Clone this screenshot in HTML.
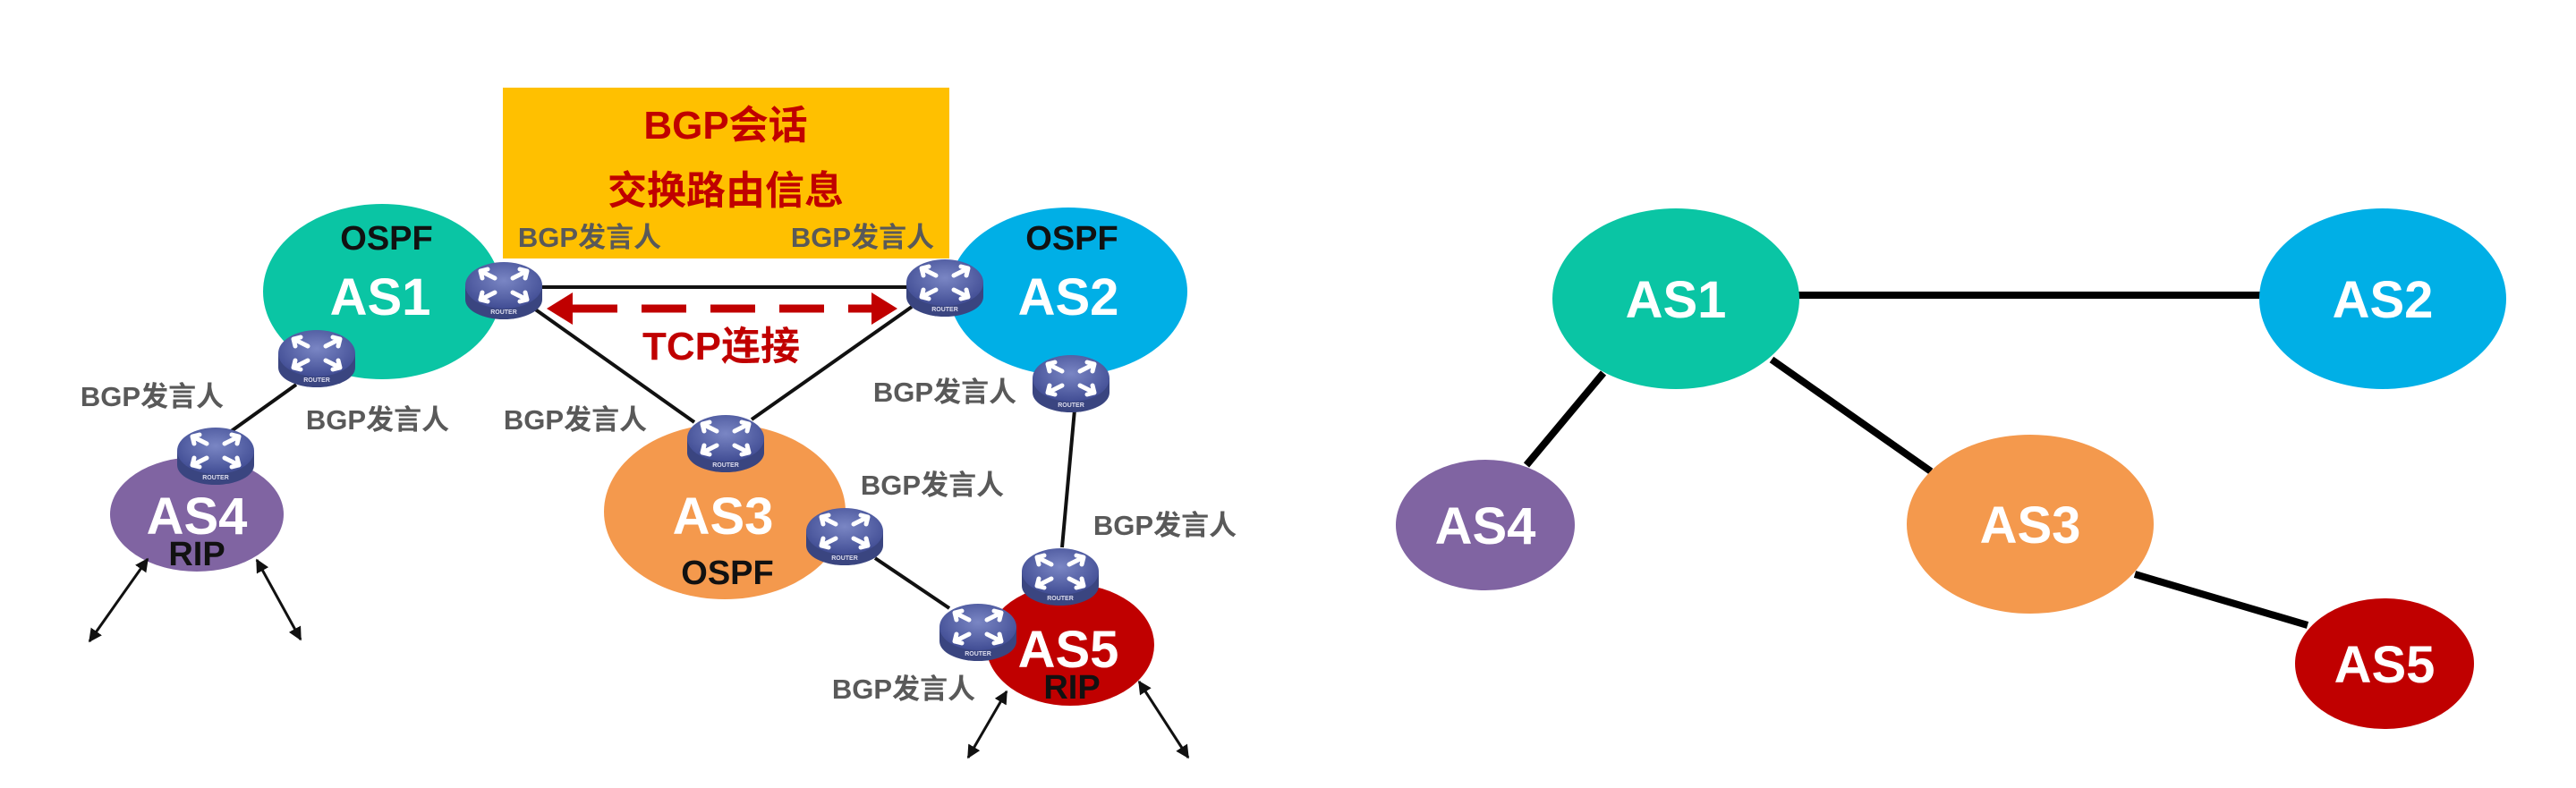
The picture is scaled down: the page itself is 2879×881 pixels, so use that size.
<!DOCTYPE html>
<html><head><meta charset="utf-8"><style>
html,body{margin:0;padding:0;background:#fff;}
svg{display:block;}
text{font-family:"Liberation Sans","Noto Sans CJK SC",sans-serif;font-weight:bold;}
.lbl{fill:#595959;font-size:31px;}
.as{fill:#fff;font-size:58px;text-anchor:middle;}
.sub{fill:#111;font-size:38px;text-anchor:middle;}
</style></head><body>
<svg width="2879" height="881" viewBox="0 0 2879 881" xmlns="http://www.w3.org/2000/svg">
<defs>
<radialGradient id="rg" cx="50%" cy="40%" r="60%"><stop offset="0" stop-color="#7a86c4"/><stop offset="1" stop-color="#414d94"/></radialGradient>
<g id="router">
  <path d="M-43,-6 L-43,10 A43,22 0 0 0 43,10 L43,-6 Z" fill="#3a4580"/>
  <ellipse cx="0" cy="-6" rx="43" ry="26" fill="url(#rg)"/>
  <g stroke="#fff" stroke-width="5" fill="none" stroke-linecap="round">
    <path d="M-26,-22 L-10,-14 M-26,-22 L-24,-14 M-26,-22 L-18,-24"/>
    <path d="M26,-22 L10,-14 M26,-22 L18,-24 M26,-22 L24,-14"/>
    <path d="M-26,10 L-10,2 M-26,10 L-18,12 M-26,10 L-24,2"/>
    <path d="M26,10 L10,2 M26,10 L24,2 M26,10 L18,12"/>
  </g>
  <text x="0" y="26" font-size="7" fill="#dde" text-anchor="middle">ROUTER</text>
</g>
<marker id="ah" viewBox="0 0 10 10" refX="9" refY="5" markerWidth="5" markerHeight="5" orient="auto-start-reverse"><path d="M0,0 L10,5 L0,10 Z" fill="#111"/></marker>
</defs>

<rect x="562" y="98" width="499" height="191" fill="#ffc000"/>
<text x="811" y="155" font-size="44" fill="#c00000" text-anchor="middle">BGP会话</text>
<text x="811" y="228" font-size="44" fill="#c00000" text-anchor="middle">交换路由信息</text>

<ellipse cx="427" cy="326" rx="133" ry="98" fill="#0ac5a4"/>
<ellipse cx="1194" cy="326" rx="133" ry="94" fill="#00afe6"/>
<ellipse cx="810" cy="572" rx="135" ry="98" fill="#f4994d"/>
<ellipse cx="220" cy="575" rx="97" ry="64" fill="#8064a2"/>
<ellipse cx="1196" cy="721" rx="94" ry="68" fill="#c00000"/>

<g stroke="#111" stroke-width="4">
<line x1="560" y1="321" x2="1056" y2="321"/>
<line x1="597" y1="345" x2="776" y2="472"/>
<line x1="1019" y1="343" x2="840" y2="469"/>
<line x1="331" y1="430" x2="257" y2="483"/>
<line x1="1201" y1="458" x2="1187" y2="612"/>
<line x1="978" y1="624" x2="1061" y2="680"/>
</g>
<g stroke="#111" stroke-width="3" marker-start="url(#ah)" marker-end="url(#ah)">
<line x1="165" y1="625" x2="100" y2="717"/>
<line x1="287" y1="626" x2="336" y2="715"/>
<line x1="1125" y1="773" x2="1082" y2="847"/>
<line x1="1273" y1="762" x2="1328" y2="847"/>
</g>

<line x1="640" y1="345" x2="975" y2="345" stroke="#c00000" stroke-width="9" stroke-dasharray="50,27"/>
<path d="M611,345 L640,327 L640,363 Z" fill="#c00000"/>
<path d="M1003,345 L974,327 L974,363 Z" fill="#c00000"/>
<text x="806" y="402" font-size="44" fill="#c00000" text-anchor="middle">TCP连接</text>

<text x="432" y="279" class="sub">OSPF</text>
<text x="425" y="352" class="as">AS1</text>
<text x="1198" y="279" class="sub">OSPF</text>
<text x="1194" y="352" class="as">AS2</text>
<text x="808" y="597" class="as">AS3</text>
<text x="813" y="653" class="sub">OSPF</text>
<text x="220" y="597" class="as" font-size="54">AS4</text>
<text x="220" y="632" class="sub" font-size="34">RIP</text>
<text x="1194" y="746" class="as" font-size="54">AS5</text>
<text x="1198" y="781" class="sub" font-size="34">RIP</text>

<use href="#router" x="563" y="325"/>
<use href="#router" x="1056" y="322"/>
<use href="#router" x="354" y="401"/>
<use href="#router" x="241" y="510"/>
<use href="#router" x="811" y="496"/>
<use href="#router" x="1197" y="429"/>
<use href="#router" x="944" y="600"/>
<use href="#router" x="1185" y="645"/>
<use href="#router" x="1093" y="707"/>

<g class="lbl" text-anchor="middle">
<text x="659" y="276" class="lbl">BGP发言人</text>
<text x="964" y="276" class="lbl">BGP发言人</text>
<text x="170" y="454" class="lbl">BGP发言人</text>
<text x="422" y="480" class="lbl">BGP发言人</text>
<text x="643" y="480" class="lbl">BGP发言人</text>
<text x="1056" y="449" class="lbl">BGP发言人</text>
<text x="1042" y="553" class="lbl">BGP发言人</text>
<text x="1302" y="598" class="lbl">BGP发言人</text>
<text x="1010" y="781" class="lbl">BGP发言人</text>
</g>

<g stroke="#000" stroke-width="8">
<line x1="1990" y1="330" x2="2545" y2="330"/>
<line x1="1792" y1="417" x2="1706" y2="520"/>
<line x1="1980" y1="402" x2="2158" y2="527"/>
<line x1="2386" y1="642" x2="2579" y2="699"/>
</g>
<ellipse cx="1873" cy="334" rx="138" ry="101" fill="#0ac5a4"/>
<ellipse cx="2663" cy="334" rx="138" ry="101" fill="#00afe6"/>
<ellipse cx="2269" cy="586" rx="138" ry="100" fill="#f4994d"/>
<ellipse cx="1660" cy="587" rx="100" ry="73" fill="#8064a2"/>
<ellipse cx="2665" cy="742" rx="100" ry="73" fill="#c00000"/>
<text x="1873" y="355" class="as">AS1</text>
<text x="2663" y="355" class="as">AS2</text>
<text x="2269" y="607" class="as">AS3</text>
<text x="1660" y="608" class="as">AS4</text>
<text x="2665" y="763" class="as">AS5</text>
</svg>
</body></html>
